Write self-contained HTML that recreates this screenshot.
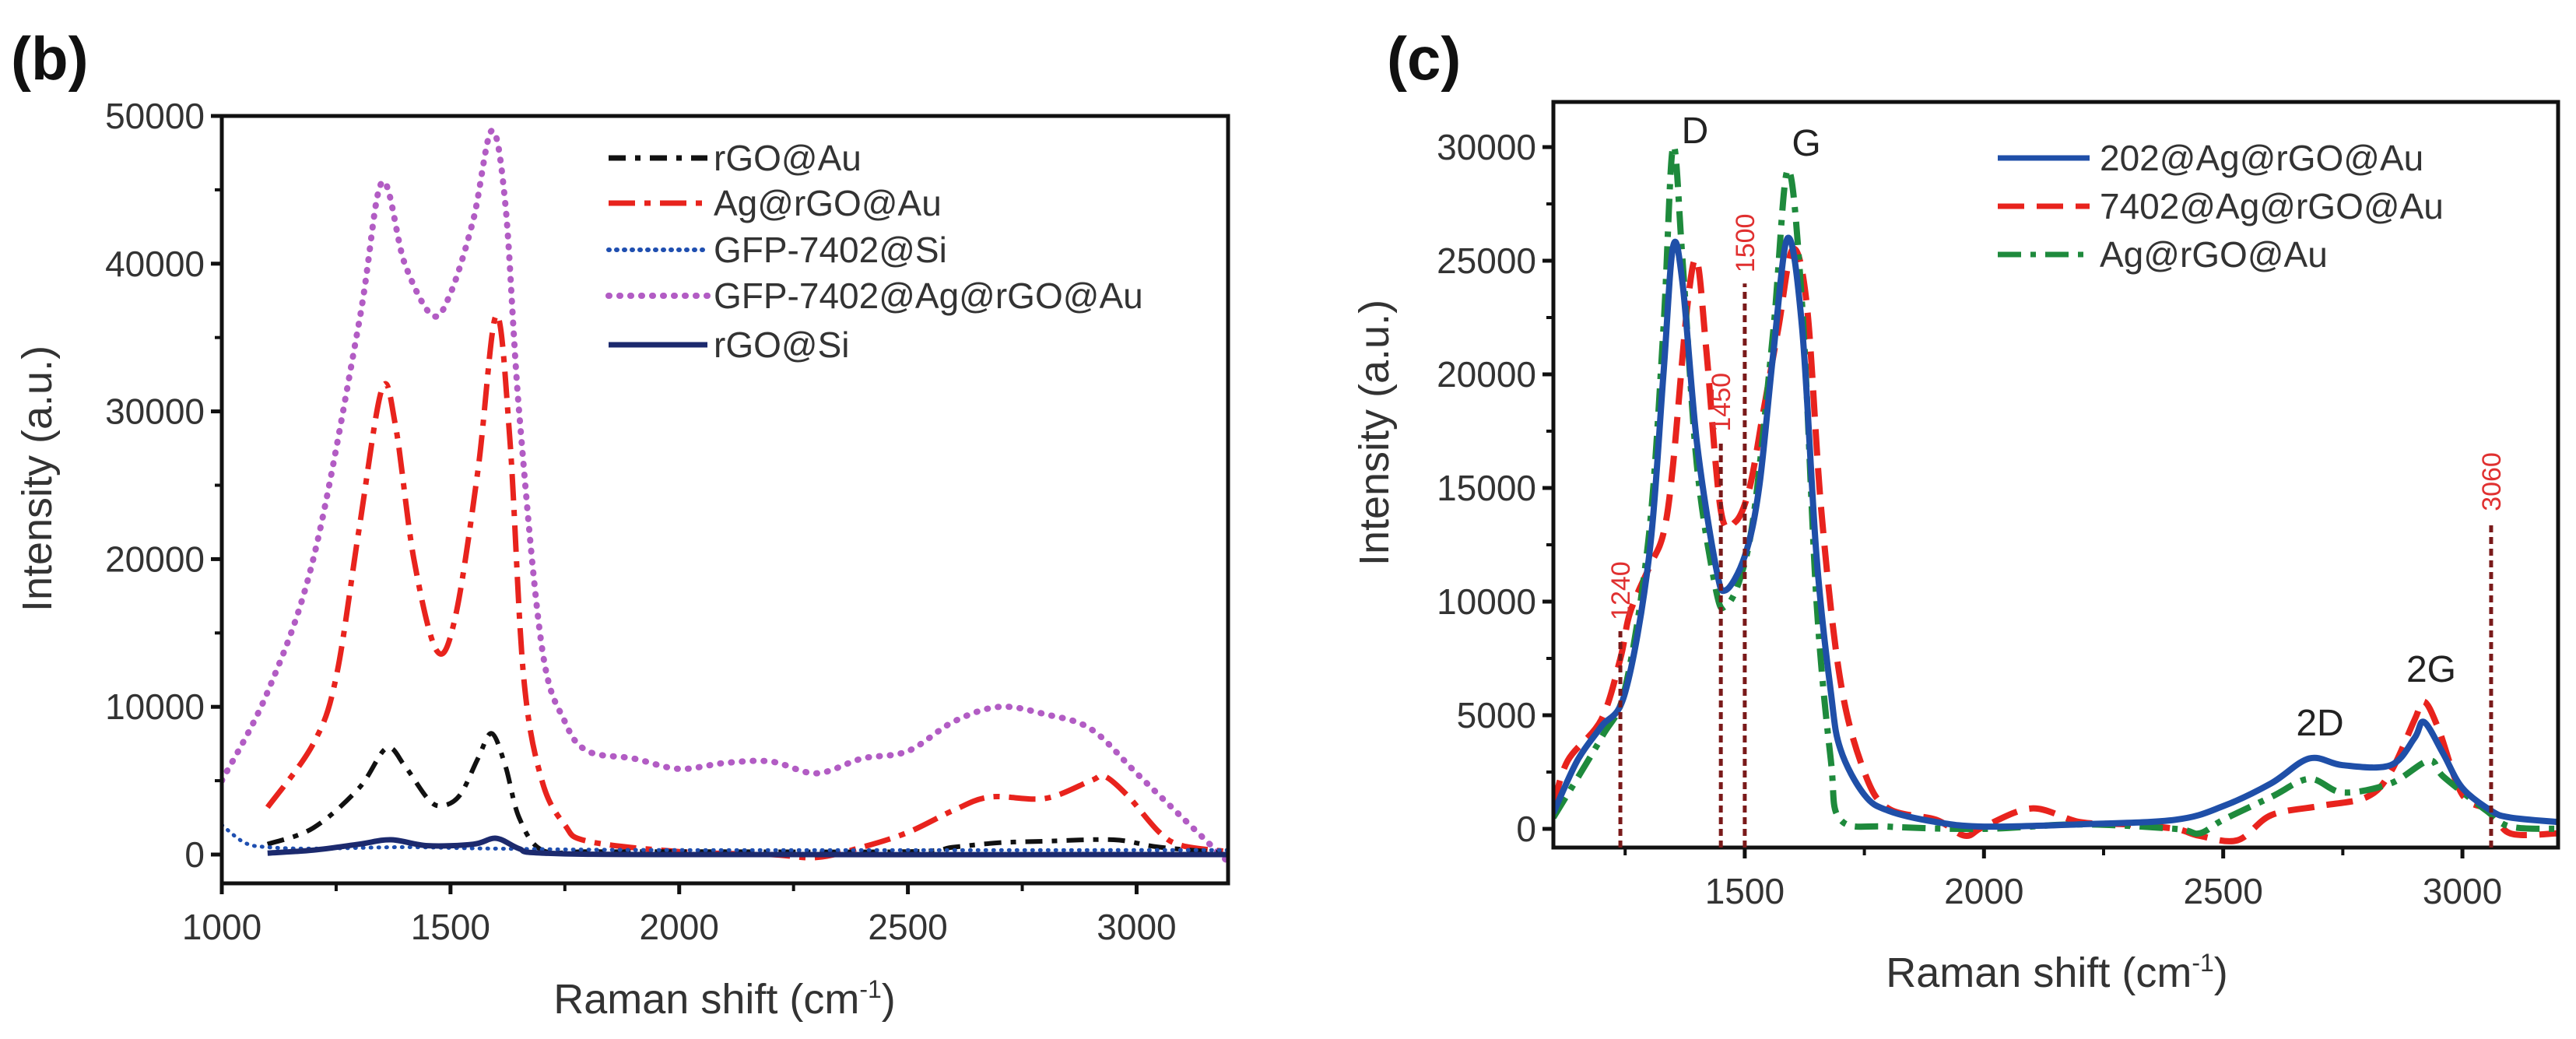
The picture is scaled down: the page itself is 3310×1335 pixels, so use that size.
<!DOCTYPE html>
<html><head><meta charset="utf-8"><style>
body{margin:0;background:#fff;}
svg{display:block;font-family:"Liberation Sans",Arial,sans-serif;}
</style></head><body>
<svg id="c" width="3310" height="1335" viewBox="0 0 3310 1335"></svg>
<script>
// ---- Panel (b) data ----
const bX_rgoAu=[1100,1200,1300,1360,1400,1450,1480,1520,1560,1590,1620,1650,1700,1800,2000,2500,2600,2700,2800,2950,3050,3200];
const bY_rgoAu=[700,1800,4500,7200,6000,3800,3300,4000,6500,8200,6000,2500,300,200,200,200,500,800,900,1000,500,100];
const bX_agRgoAu=[1100,1200,1250,1300,1350,1380,1420,1470,1510,1560,1600,1630,1660,1700,1750,1800,2000,2200,2300,2400,2500,2600,2680,2800,2900,2930,2980,3050,3100,3200];
const bY_agRgoAu=[3200,7500,12000,22000,31500,29000,20000,13800,16000,26000,36500,28000,12000,5000,2000,900,200,0,-200,500,1500,3000,3900,3800,5000,5300,4000,1500,600,200];
const bX_gfpSi=[1000,1050,1100,1200,1400,1600,2000,3000,3200];
const bY_gfpSi=[2000,800,500,400,500,400,300,300,300];
const bX_gfpAg=[1000,1100,1200,1300,1350,1400,1460,1500,1550,1590,1620,1650,1700,1750,1800,1900,2000,2100,2200,2300,2400,2500,2600,2700,2800,2900,3000,3100,3200];
const bY_gfpAg=[5000,11000,20000,36000,45500,40000,36500,38000,43000,49000,44000,30000,14000,9000,7000,6500,5800,6200,6300,5500,6500,7000,9000,10000,9500,8500,5500,2500,-500];
const bX_rgoSi=[1100,1200,1300,1370,1450,1550,1600,1650,1700,2000,3200];
const bY_rgoSi=[100,300,700,1000,600,700,1100,400,100,0,0];
const bXTicks=[1000,1500,2000,2500,3000];
const bYTicks=[0,10000,20000,30000,40000,50000];
// ---- Panel (c) data ----
const cX_202=[1100,1150,1200,1250,1300,1330,1350,1370,1400,1440,1460,1500,1530,1560,1590,1620,1650,1680,1700,1750,1800,1900,2000,2200,2400,2500,2600,2680,2750,2850,2900,2920,2960,3000,3060,3100,3200];
const cY_202=[700,3000,4500,6000,12000,20000,25600,24000,17000,11500,10500,12000,15000,21000,26000,22000,12000,6000,3500,1500,800,300,100,200,400,1000,2000,3100,2800,2800,4000,4700,3300,1800,800,500,300];
const cX_7402=[1100,1130,1200,1240,1260,1300,1330,1350,1380,1400,1420,1450,1480,1510,1540,1570,1600,1630,1660,1700,1750,1800,1900,1960,2000,2100,2200,2300,2400,2450,2530,2600,2700,2800,2850,2900,2920,2950,3000,3060,3100,3200];
const cY_7402=[1000,3000,4800,7500,9500,11500,13000,16000,23000,25000,21000,14000,13500,15000,18500,22000,25500,23000,14000,6500,2500,900,400,-300,100,900,300,200,0,-300,-500,600,1000,1400,2500,4800,5600,4400,1500,800,-200,-200];
const cX_ag=[1100,1200,1250,1300,1330,1350,1370,1400,1440,1460,1490,1520,1560,1590,1620,1650,1680,1700,1800,2000,2200,2400,2450,2500,2600,2680,2750,2850,2930,2960,3050,3100,3200];
const cY_ag=[500,4000,6200,13000,22000,30000,25000,16000,10500,9800,11000,14000,22000,29000,23000,10000,3000,400,100,0,200,0,-200,400,1400,2200,1600,2000,3000,2300,800,100,0];
const cXTicks=[1500,2000,2500,3000];
const cYTicks=[0,5000,10000,15000,20000,25000,30000];
const cMarks=[1240,1450,1500,3060];
const cMarkTops=[8700,17000,24000,13500];

const NS="http://www.w3.org/2000/svg";
const svg=document.getElementById('c');
function mk(tag,attrs,parent){const e=document.createElementNS(NS,tag);for(const k in attrs)e.setAttribute(k,attrs[k]);(parent||svg).appendChild(e);return e;}
function smooth(pts){let d="M"+pts[0][0].toFixed(1)+","+pts[0][1].toFixed(1);
 for(let i=0;i<pts.length-1;i++){const p0=pts[Math.max(0,i-1)],p1=pts[i],p2=pts[i+1],p3=pts[Math.min(pts.length-1,i+2)];
  const c1=[p1[0]+(p2[0]-p0[0])/6,p1[1]+(p2[1]-p0[1])/6],c2=[p2[0]-(p3[0]-p1[0])/6,p2[1]-(p3[1]-p1[1])/6];
  d+="C"+c1.map(v=>v.toFixed(1))+" "+c2.map(v=>v.toFixed(1))+" "+p2.map(v=>v.toFixed(1));}
 return d;}

function panel(o){
 const g=mk('g',{});
 
 
 const sx=v=>o.x0+(v-o.xmin)*(o.x1-o.x0)/(o.xmax-o.xmin);
 const sy=v=>o.y0-(v-o.ymin)*(o.y0-o.ymaxY)/(o.ymax-o.ymin);
 const clip=mk('clipPath',{id:o.name+'-clip'},g);
 mk('rect',{x:o.x0,y:o.y1,width:o.x1-o.x0,height:o.yb-o.y1},clip);
 o.series.forEach(s=>{
  const pts=s.x.map((v,i)=>[sx(v),sy(s.y[i])]);
  const p=mk('path',{d:smooth(pts),fill:'none',stroke:s.color,'stroke-width':s.w,'stroke-dasharray':s.dash||'','stroke-linecap':s.cap||'butt','clip-path':'url(#'+o.name+'-clip)'},g);
  
  
 });
 const frame=mk('rect',{x:o.x0,y:o.y1,width:o.x1-o.x0,height:o.yb-o.y1,fill:'none',stroke:'#111','stroke-width':5},g);
 
 
 o.xTicks.forEach(v=>{
  mk('line',{x1:sx(v),x2:sx(v),y1:o.yb,y2:o.yb+14,stroke:'#111','stroke-width':5},g);
  const t=mk('text',{x:sx(v),y:o.yb+72,'font-size':46,'text-anchor':'middle',fill:'#333'},g);t.textContent=v;
  
  
  const m=v+o.xMinor;if(m<o.xmax)mk('line',{x1:sx(m),x2:sx(m),y1:o.yb,y2:o.yb+10,stroke:'#111','stroke-width':4},g);
 });
 if(o.xMinorFirst)mk('line',{x1:sx(o.xMinorFirst),x2:sx(o.xMinorFirst),y1:o.yb,y2:o.yb+10,stroke:'#111','stroke-width':4},g);
 o.yTicks.forEach(v=>{
  mk('line',{x1:o.x0-14,x2:o.x0,y1:sy(v),y2:sy(v),stroke:'#111','stroke-width':5},g);
  const t=mk('text',{x:o.x0-22,y:sy(v)+16,'font-size':46,'text-anchor':'end',fill:'#333'},g);t.textContent=v;
  
  
  const m=v+o.yMinor;if(sy(m)>o.y1+5)mk('line',{x1:o.x0-9,x2:o.x0,y1:sy(m),y2:sy(m),stroke:'#111','stroke-width':4},g);
 });
 return {sx,sy,g};
}

const B=panel({name:'panel-b',x0:285,x1:1578,y1:149,yb:1135,y0:1098,ymaxY:149,xmin:1000,xmax:3200,ymin:0,ymax:50000,
 xTicks:bXTicks,yTicks:bYTicks,xMinor:250,yMinor:5000,
 series:[
  {id:'series-gfp-7402-ag-rgo-au',x:bX_gfpAg,y:bY_gfpAg,color:'#b25cc4',w:8,dash:'1 13',cap:'round'},
  {id:'series-ag-rgo-au',x:bX_agRgoAu,y:bY_agRgoAu,color:'#e8231d',w:7,dash:'34 12 8 12'},
  {id:'series-rgo-au',x:bX_rgoAu,y:bY_rgoAu,color:'#111',w:6,dash:'22 12 7 12'},
  {id:'series-gfp-7402-si',x:bX_gfpSi,y:bY_gfpSi,color:'#1f4fb0',w:5,dash:'1 9',cap:'round'},
  {id:'series-rgo-si',x:bX_rgoSi,y:bY_rgoSi,color:'#1c2a6e',w:7}
 ]});
const C=panel({name:'panel-c',x0:1996,x1:3287,y1:131,yb:1089,y0:1065,ymaxY:189,xmin:1100,xmax:3200,ymin:0,ymax:30000,
 xTicks:cXTicks,yTicks:cYTicks,xMinor:250,yMinor:2500,xMinorFirst:1250,
 series:[
  {id:'series-7402-ag-rgo-au',x:cX_7402,y:cY_7402,color:'#e8231d',w:8,dash:'34 16'},
  {id:'series-ag-rgo-au-c',x:cX_ag,y:cY_ag,color:'#1e8a3c',w:8,dash:'30 12 7 12'},
  {id:'series-202-ag-rgo-au',x:cX_202,y:cY_202,color:'#1f4fa8',w:8}
 ]});
cMarks.forEach((v,i)=>{
 const l=mk('line',{x1:C.sx(v),x2:C.sx(v),y1:1089,y2:C.sy(cMarkTops[i]),stroke:'#7a1a1a','stroke-width':5,'stroke-dasharray':'9 6'});
 
 
 const t=mk('text',{x:0,y:0,'font-size':34,fill:'#e03030','text-anchor':'start',transform:'translate('+(C.sx(v)+12)+','+(C.sy(cMarkTops[i])-14)+') rotate(-90)'});
 t.textContent=v;
 
 
});
function txt(s,x,y,size,attrs,name){const t=mk('text',Object.assign({x:x,y:y,'font-size':size,fill:'#222'},attrs||{}));t.textContent=s;return t;}
txt('D',2178,184,48,{'text-anchor':'middle'},'peak-label-d');
txt('G',2321,200,48,{'text-anchor':'middle'},'peak-label-g');
txt('2D',2981,945,48,{'text-anchor':'middle'},'peak-label-2d');
txt('2G',3124,876,48,{'text-anchor':'middle'},'peak-label-2g');
txt('(b)',14,102,78,{'font-weight':'bold',fill:'#111'},'panel-label-b');
txt('(c)',1782,102,78,{'font-weight':'bold',fill:'#111'},'panel-label-c');
const xt1=mk('text',{x:931,y:1302,'font-size':54,'text-anchor':'middle',fill:'#333'});xt1.innerHTML='Raman shift (cm<tspan dy="-20" font-size="32">-1</tspan><tspan dy="20">)</tspan>';


const xt2=mk('text',{x:2643,y:1268,'font-size':54,'text-anchor':'middle',fill:'#333'});xt2.innerHTML='Raman shift (cm<tspan dy="-20" font-size="32">-1</tspan><tspan dy="20">)</tspan>';


txt('Intensity (a.u.)',0,0,54,{'text-anchor':'middle',fill:'#333',transform:'translate(66,615) rotate(-90)'},'y-axis-title-b');
txt('Intensity (a.u.)',0,0,54,{'text-anchor':'middle',fill:'#333',transform:'translate(1784,556) rotate(-90)'},'y-axis-title-c');
function legend(items,lx0,lx1,tx,ys,name){items.forEach((it,i)=>{
 const l=mk('line',{x1:lx0,x2:lx1,y1:ys[i],y2:ys[i],stroke:it.color,'stroke-width':it.w,'stroke-dasharray':it.dash||'','stroke-linecap':it.cap||'butt'});
 
 
 txt(it.label,tx,ys[i]+16,46,{fill:'#333'},name+'-entry');});}
legend([
 {label:'rGO@Au',color:'#111',w:7,dash:'22 12 7 12'},
 {label:'Ag@rGO@Au',color:'#e8231d',w:7,dash:'34 12 8 12'},
 {label:'GFP-7402@Si',color:'#1f4fb0',w:6,dash:'1 9',cap:'round'},
 {label:'GFP-7402@Ag@rGO@Au',color:'#b25cc4',w:8,dash:'1 13',cap:'round'},
 {label:'rGO@Si',color:'#1c2a6e',w:7}
],782,909,917,[203,261,321,380,443],'legend-b');
legend([
 {label:'202@Ag@rGO@Au',color:'#1f4fa8',w:7},
 {label:'7402@Ag@rGO@Au',color:'#e8231d',w:7,dash:'34 16'},
 {label:'Ag@rGO@Au',color:'#1e8a3c',w:7,dash:'30 12 7 12'}
],2567,2685,2698,[203,265,327],'legend-c');
</script>
</body></html>
